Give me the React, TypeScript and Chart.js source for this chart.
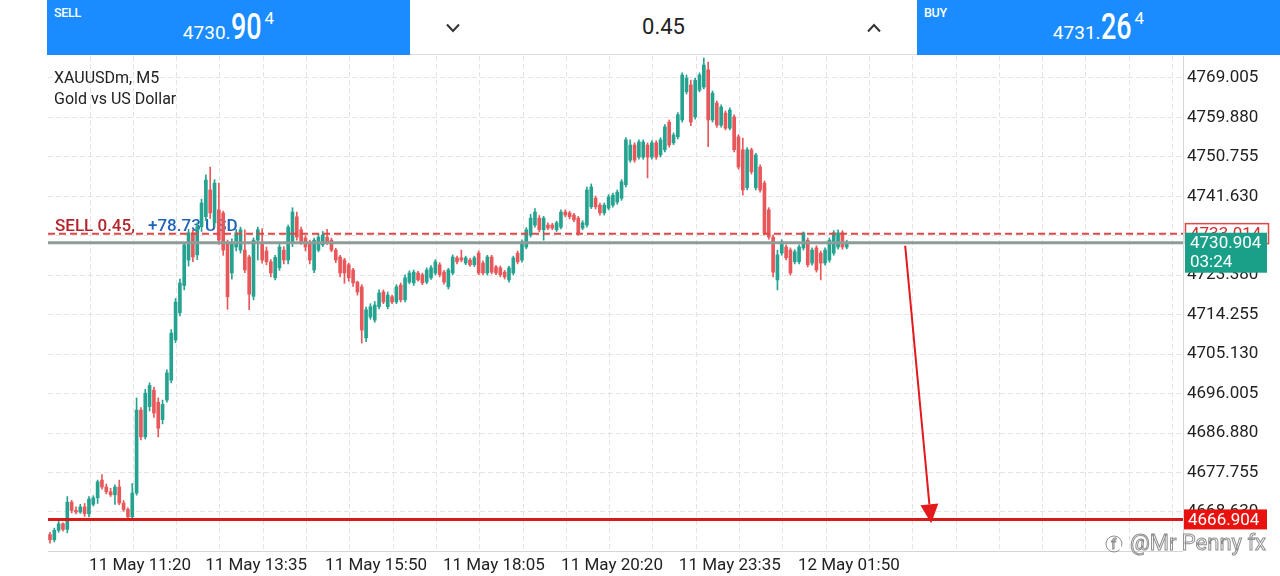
import React, { useEffect, useRef } from 'react';
import { Chart, registerables } from 'chart.js';

Chart.register(...registerables);

// ---------------- DATA ----------------
const symbolTitle = 'XAUUSDm, M5';
const symbolName = 'Gold vs US Dollar';

const opens = [
  4663.4,4662.2,4664.4,4665.9,4664.6,4670.9,4669.0,4668.6,4669.8,4668.2,
  4670.4,4671.9,4676.0,4674.4,4673.3,4672.6,4674.4,4670.7,4669.2,4667.5,
  4673.0,4692.2,4686.0,4693.0,4696.8,4694.0,4690.0,4694.5,4699.1,4708.4,
  4714.7,4721.0,4726.9,4733.2,4728.1,4734.6,4736.9,4743.1,4735.5,4738.5,
  4737.8,4730.9,4723.9,4729.9,4729.2,4729.2,4727.6,4718.5,4731.5,4730.9,
  4729.0,4726.5,4722.8,4725.1,4729.2,4726.9,4730.8,4736.9,4733.9,4732.0,
  4730.9,4724.6,4729.2,4730.4,4732.2,4731.5,4729.2,4727.6,4726.9,4725.8,
  4724.6,4721.8,4720.7,4708.9,4713.7,4713.0,4716.1,4719.5,4716.1,4718.4,
  4717.2,4721.1,4717.7,4721.8,4721.6,4723.9,4723.5,4721.8,4722.8,4723.9,
  4725.8,4724.1,4720.7,4723.9,4727.4,4727.4,4726.2,4726.9,4725.8,4728.5,
  4726.2,4723.9,4727.6,4725.3,4725.1,4724.1,4722.3,4723.9,4728.5,4726.9,
  4729.9,4732.7,4735.0,4736.6,4733.9,4735.0,4735.0,4733.9,4734.5,4738.0,
  4737.8,4737.3,4736.6,4734.3,4735.0,4739.2,4741.2,4739.6,4737.8,4738.9,
  4739.6,4740.3,4741.2,4744.3,4750.0,4753.5,4750.7,4750.7,4753.5,4750.7,
  4754.0,4751.2,4752.4,4758.8,4754.0,4755.4,4759.3,4765.8,4767.4,4760.0,
  4766.2,4766.9,4770.9,4759.3,4763.2,4758.1,4760.9,4757.4,4760.0,4755.4,
  4752.4,4743.6,4752.4,4743.6,4748.4,4744.7,4738.5,4732.2,4722.3,4728.5,
  4729.9,4729.2,4726.5,4726.5,4729.7,4731.5,4726.2,4729.7,4728.5,4726.2,
  4726.9,4728.5,4729.9,4733.2,4729.9,
];

const highs = [
  4663.9,4664.9,4666.6,4666.1,4672.2,4671.3,4669.8,4670.4,4670.6,4672.2,
  4672.4,4676.0,4677.3,4675.1,4674.1,4674.9,4676.0,4671.3,4669.6,4675.2,
  4695.0,4692.8,4697.0,4698.5,4697.5,4695.0,4694.5,4701.5,4710.8,4718.0,
  4722.5,4731.0,4734.0,4733.8,4735.5,4741.0,4746.6,4748.4,4745.5,4744.7,
  4738.2,4731.5,4731.8,4734.0,4734.5,4733.9,4728.0,4732.0,4734.5,4734.2,
  4729.9,4727.0,4728.0,4730.5,4730.0,4735.0,4739.0,4738.0,4734.5,4732.5,
  4731.5,4732.0,4733.0,4733.5,4734.0,4732.0,4729.6,4728.0,4727.3,4726.2,
  4725.0,4722.0,4721.2,4716.0,4716.8,4717.3,4720.0,4720.0,4719.5,4718.8,
  4721.2,4721.6,4723.5,4724.4,4724.6,4724.3,4723.9,4725.1,4725.6,4727.0,
  4726.3,4724.5,4725.0,4728.1,4727.8,4729.2,4727.8,4727.3,4727.8,4729.0,
  4726.7,4728.0,4728.0,4725.7,4725.5,4724.5,4725.5,4727.8,4729.0,4731.6,
  4734.4,4737.5,4738.8,4737.2,4737.0,4735.5,4735.4,4735.9,4738.5,4738.5,
  4738.2,4737.7,4737.0,4736.0,4743.8,4744.5,4741.7,4740.1,4740.1,4742.0,
  4742.4,4743.1,4745.5,4755.2,4754.7,4754.0,4754.7,4754.7,4754.0,4754.5,
  4754.5,4755.2,4758.2,4759.3,4756.3,4761.0,4770.2,4769.7,4768.5,4769.0,
  4770.2,4773.6,4772.7,4766.0,4763.7,4762.8,4761.4,4762.1,4760.5,4755.9,
  4755.1,4752.9,4752.8,4751.6,4748.9,4745.2,4739.0,4732.7,4729.2,4731.6,
  4730.4,4729.7,4729.3,4730.4,4733.4,4732.0,4729.7,4730.2,4729.0,4729.7,
  4732.0,4733.7,4733.9,4733.7,4731.5,
];

const lows = [
  4661.4,4661.7,4663.9,4664.2,4663.8,4668.4,4668.2,4668.3,4667.6,4667.5,
  4670.0,4670.6,4673.9,4672.8,4672.2,4670.4,4670.3,4668.8,4667.0,4667.0,
  4672.5,4685.3,4685.5,4692.0,4690.5,4686.0,4689.0,4694.0,4698.5,4707.8,
  4714.0,4720.0,4725.5,4726.5,4727.0,4733.5,4736.0,4736.5,4734.5,4730.5,
  4728.0,4715.5,4722.5,4729.0,4728.5,4724.0,4715.4,4717.7,4726.9,4726.2,
  4725.8,4723.0,4722.3,4724.5,4726.0,4726.0,4730.0,4731.5,4730.5,4729.0,
  4726.0,4724.0,4728.8,4730.0,4730.5,4728.8,4726.3,4723.0,4721.5,4722.0,
  4720.8,4718.8,4707.7,4708.0,4713.2,4712.5,4715.6,4716.8,4715.6,4716.8,
  4716.8,4717.2,4717.2,4721.4,4721.0,4722.0,4721.2,4721.4,4722.4,4723.5,
  4723.0,4721.3,4720.2,4723.5,4726.0,4726.5,4725.8,4725.4,4725.4,4723.5,
  4723.5,4723.4,4723.7,4723.5,4723.0,4722.5,4721.8,4723.5,4726.0,4726.4,
  4729.5,4732.2,4734.5,4733.4,4731.5,4733.9,4733.9,4733.5,4734.1,4736.9,
  4736.4,4735.8,4732.6,4733.9,4734.5,4738.8,4738.7,4737.3,4737.3,4738.5,
  4739.1,4739.8,4740.7,4743.8,4749.5,4749.5,4750.2,4750.2,4745.9,4750.2,
  4750.2,4750.7,4751.9,4753.0,4753.6,4754.9,4758.8,4765.3,4758.0,4759.5,
  4765.8,4766.5,4753.1,4758.8,4757.6,4757.6,4757.0,4757.0,4751.9,4747.9,
  4741.9,4743.1,4746.8,4743.1,4742.6,4732.7,4731.7,4723.0,4720.0,4728.0,
  4726.9,4723.4,4726.0,4726.0,4729.2,4725.3,4725.7,4724.1,4722.3,4725.7,
  4726.4,4728.0,4729.4,4729.4,4729.5,
];

const closes = [
  4662.2,4664.4,4665.9,4664.6,4670.9,4669.0,4668.6,4669.8,4668.2,4671.6,
  4671.9,4675.6,4674.4,4673.3,4672.6,4674.4,4670.7,4669.2,4667.5,4673.0,
  4692.2,4686.0,4696.1,4697.9,4691.5,4688.0,4693.5,4700.8,4710.0,4717.2,
  4721.6,4730.4,4733.2,4727.6,4734.6,4740.1,4745.4,4737.8,4744.7,4731.5,
  4729.2,4718.4,4730.9,4733.2,4733.9,4724.6,4719.0,4731.5,4733.9,4726.9,
  4726.5,4723.9,4727.5,4729.9,4726.9,4734.5,4738.0,4732.2,4731.1,4729.9,
  4726.9,4731.5,4732.2,4732.7,4730.9,4729.2,4726.9,4723.9,4723.9,4722.8,
  4721.6,4719.5,4710.7,4715.4,4716.1,4716.5,4719.3,4717.2,4718.8,4717.2,
  4720.7,4717.7,4722.8,4723.9,4724.1,4722.3,4721.6,4724.6,4725.1,4726.5,
  4723.5,4721.8,4724.6,4727.6,4726.5,4726.9,4727.4,4725.8,4727.4,4723.9,
  4723.9,4727.6,4724.1,4723.9,4723.5,4723.0,4725.1,4727.4,4726.5,4731.1,
  4733.9,4736.6,4738.0,4733.9,4736.6,4734.3,4734.3,4735.5,4738.0,4737.3,
  4736.9,4736.2,4733.2,4735.5,4743.1,4743.8,4739.2,4737.8,4739.6,4741.5,
  4741.9,4742.6,4745.0,4754.7,4753.5,4750.0,4754.2,4754.2,4750.7,4754.0,
  4750.7,4754.7,4757.7,4753.5,4755.8,4760.5,4769.7,4769.0,4758.8,4768.5,
  4769.7,4772.0,4759.3,4765.5,4758.1,4762.3,4757.4,4761.6,4752.4,4748.4,
  4743.1,4752.4,4747.3,4751.2,4743.1,4733.2,4732.2,4724.1,4728.1,4731.1,
  4727.4,4723.9,4728.8,4729.9,4733.2,4725.8,4729.2,4724.6,4726.2,4729.2,
  4731.5,4733.2,4733.2,4729.9,4730.9,
];

const priceTicks = [
  4769.005, 4759.880, 4750.755, 4741.630, 4732.505, 4723.380,
  4714.255, 4705.130, 4696.005, 4686.880, 4677.755, 4668.630,
];
const timeLabels = [
  '11 May 11:20', '11 May 13:35', '11 May 15:50', '11 May 18:05',
  '11 May 20:20', '11 May 23:35', '12 May 01:50',
];
const timeLabelBars = [20.8, 47.6, 75.3, 102.5, 129.8, 157.0, 184.5];
const gridStartBar = 9.24;
const gridEveryBars = 10;
const xMinBar = -0.46;
const xMaxBar = 261.66;
const yMinPrice = 4659.6;
const yMaxPrice = 4774.09;

const sellQuote = ['4730.', '90', '4'];
const buyQuote = ['4731.', '26', '4'];
const lotText = '0.45';
const tradeText = 'SELL 0.45,';
const profitText = '+78.73 USD';
const entryPrice = 4733.0;
const entryLabel = '4733.014';
const bidPrice = 4730.904;
const timerText = '03:24';
const targetPrice = 4666.904;
const arrowFrom = { bar: 197.5, price: 4730.2 };
const arrowTo = { bar: 203.5, price: 4666.0 };
const watermark = '@Mr Penny fx';

// ---------------- STYLE ----------------
const UP = '#26a390';
const DOWN = '#e8585a';
const GRID = '#e4e4e4';
const BLUE = '#1a8cff';
const FONT = 'Roboto';

const overlayPlugin = {
  id: 'overlay',
  beforeDatasetsDraw(chart: any) {
    const { ctx } = chart;
    const a = chart.chartArea;
    ctx.save();
    ctx.strokeStyle = '#d6d6d6';
    ctx.lineWidth = 1;
    ctx.beginPath();
    ctx.moveTo(a.right + 0.5, 56);
    ctx.lineTo(a.right + 0.5, a.bottom);
    ctx.stroke();
    ctx.beginPath();
    ctx.moveTo(a.left, a.bottom + 0.5);
    ctx.lineTo(a.right, a.bottom + 0.5);
    ctx.stroke();
    ctx.fillStyle = '#222';
    ctx.font = `16px ${FONT}`;
    ctx.textAlign = 'left';
    ctx.textBaseline = 'alphabetic';
    ctx.fillText(symbolTitle, 54, 83);
    ctx.fillText(symbolName, 54, 104);
    const yE = chart.scales.y.getPixelForValue(entryPrice);
    ctx.font = `500 17px ${FONT}`;
    ctx.fillStyle = '#b3242a';
    ctx.fillText(tradeText, a.left + 7, yE - 3);
    ctx.fillStyle = '#1f63b8';
    ctx.fillText(profitText, a.left + 100, yE - 3);
    ctx.restore();
  },
  afterDatasetsDraw(chart: any) {
    const { ctx } = chart;
    const a = chart.chartArea;
    const ys = chart.scales.y;
    const xs = chart.scales.x;
    ctx.save();
    const hline = (price: number, color: string, w: number, dash: number[]) => {
      const y = ys.getPixelForValue(price);
      ctx.strokeStyle = color;
      ctx.lineWidth = w;
      ctx.setLineDash(dash);
      ctx.beginPath();
      ctx.moveTo(a.left, y);
      ctx.lineTo(a.right, y);
      ctx.stroke();
    };
    hline(entryPrice, '#e04848', 2, [7, 4]);
    hline(bidPrice, '#8d9c98', 3, []);
    hline(targetPrice, '#d91818', 3, []);
    ctx.setLineDash([]);
    const x1 = xs.getPixelForValue(arrowFrom.bar);
    const y1 = ys.getPixelForValue(arrowFrom.price);
    const x2 = xs.getPixelForValue(arrowTo.bar);
    const y2 = ys.getPixelForValue(arrowTo.price);
    const ang = Math.atan2(y2 - y1, x2 - x1);
    const headLen = 19;
    const headW = 9;
    const bx = x2 - headLen * Math.cos(ang);
    const by = y2 - headLen * Math.sin(ang);
    ctx.strokeStyle = '#e3191c';
    ctx.fillStyle = '#e3191c';
    ctx.lineWidth = 2;
    ctx.beginPath();
    ctx.moveTo(x1, y1);
    ctx.lineTo(bx, by);
    ctx.stroke();
    ctx.beginPath();
    ctx.moveTo(x2, y2);
    ctx.lineTo(bx + headW * Math.sin(ang), by - headW * Math.cos(ang));
    ctx.lineTo(bx - headW * Math.sin(ang), by + headW * Math.cos(ang));
    ctx.closePath();
    ctx.fill();
    ctx.restore();
  },
  afterDraw(chart: any) {
    const { ctx } = chart;
    const a = chart.chartArea;
    const ys = chart.scales.y;
    ctx.save();
    ctx.font = `17px ${FONT}`;
    ctx.textAlign = 'left';
    ctx.textBaseline = 'middle';
    const bx = a.right + 2;
    const bw = 83;
    const yE = ys.getPixelForValue(entryPrice);
    ctx.fillStyle = '#fff';
    ctx.fillRect(bx, yE - 10, bw, 20);
    ctx.strokeStyle = '#e04848';
    ctx.lineWidth = 1.5;
    ctx.strokeRect(bx + 0.5, yE - 10, bw, 20);
    ctx.fillStyle = '#d32f2f';
    ctx.fillText(entryLabel, bx + 5, yE + 1);
    const yB = ys.getPixelForValue(bidPrice);
    ctx.fillStyle = '#1aa089';
    ctx.fillRect(bx, yB - 10, bw - 1, 40);
    ctx.fillStyle = '#fff';
    ctx.fillText(bidPrice.toFixed(3), bx + 5, yB + 1);
    ctx.fillText(timerText, bx + 5, yB + 20);
    const yT = ys.getPixelForValue(targetPrice);
    ctx.fillStyle = '#e8120f';
    ctx.fillRect(bx - 1, yT - 10, bw, 20);
    ctx.fillStyle = '#fff';
    ctx.fillText(targetPrice.toFixed(3), bx + 3, yT + 1);
    ctx.font = `22px ${FONT}`;
    ctx.lineWidth = 1;
    ctx.strokeStyle = '#8e8e8e';
    ctx.fillStyle = '#ffffff';
    ctx.fillText(watermark, 1130, 544);
    ctx.strokeText(watermark, 1130, 544);
    ctx.beginPath();
    ctx.arc(1114, 544, 8, 0.25 * Math.PI, 2.1 * Math.PI);
    ctx.stroke();
    ctx.font = `15px ${FONT}`;
    ctx.strokeText('f', 1111, 545);
    ctx.restore();
  },
};

const chevron = (up: boolean, left: number) => (
  <svg width={16} height={10} style={{ position: 'absolute', left, top: 23 }} viewBox="0 0 16 10">
    <polyline
      points={up ? '2,8.5 8,2 14,8.5' : '2,1.5 8,8 14,1.5'}
      fill="none"
      stroke="#333"
      strokeWidth={2}
    />
  </svg>
);

const Quote = ({ title, parts, left }: { title: string; parts: string[]; left: number }) => (
  <div
    style={{
      position: 'absolute',
      left,
      top: 0,
      width: 363,
      height: 55,
      background: BLUE,
      color: '#fff',
      fontFamily: FONT,
    }}
  >
    <div style={{ position: 'absolute', left: 7, top: 5, fontSize: 12.5, fontWeight: 500, letterSpacing: -0.3 }}>
      {title}
    </div>
    <div
      style={{
        position: 'absolute',
        left: 0,
        right: 0,
        top: 0,
        paddingTop: 9,
        display: 'flex',
        justifyContent: 'center',
        alignItems: 'baseline',
        whiteSpace: 'nowrap',
      }}
    >
      <span style={{ fontSize: 19, lineHeight: '19px' }}>{parts[0]}</span>
      <span
        style={{
          display: 'inline-block',
          width: 31,
          fontSize: 36,
          lineHeight: '36px',
          fontWeight: 500,
          transform: 'scaleX(0.75)',
          transformOrigin: 'left',
        }}
      >
        {parts[1]}
      </span>
      <span style={{ fontSize: 17, lineHeight: '17px', position: 'relative', top: -15, marginLeft: 3 }}>
        {parts[2]}
      </span>
    </div>
  </div>
);

export default function App() {
  const canvasRef = useRef<HTMLCanvasElement | null>(null);

  useEffect(() => {
    if (!canvasRef.current) return;
    const colors = closes.map((c, i) => (c >= opens[i] ? UP : DOWN));
    const bodies = closes.map((c, i) => ({ x: i, y: [Math.min(opens[i], c), Math.max(opens[i], c)] }));
    const wicks = closes.map((c, i) => ({
      x: i,
      y: [Math.min(lows[i], opens[i], c), Math.max(highs[i], opens[i], c)],
    }));
    const gridBars: number[] = [];
    for (let v = gridStartBar; v <= xMaxBar; v += gridEveryBars) gridBars.push(v);

    const tickFont = { family: FONT, size: 17 };
    const chart = new Chart(canvasRef.current, {
      type: 'bar',
      data: {
        datasets: [
          {
            data: bodies as any,
            backgroundColor: colors,
            borderWidth: 0,
            barThickness: 3,
            minBarLength: 1,
            grouped: false,
            order: 0,
            xAxisID: 'x',
            yAxisID: 'y',
          } as any,
          {
            data: wicks as any,
            backgroundColor: colors,
            borderWidth: 0,
            barThickness: 1,
            grouped: false,
            order: 1,
            xAxisID: 'x',
            yAxisID: 'y',
          } as any,
        ],
      },
      options: {
        animation: false,
        responsive: false,
        devicePixelRatio: 1,
        events: [],
        layout: { padding: { left: 48, top: 56, right: 0, bottom: 0 } },
        plugins: { legend: { display: false }, tooltip: { enabled: false } },
        scales: {
          x: {
            type: 'linear',
            position: 'bottom',
            min: xMinBar,
            max: xMaxBar,
            offset: false,
            bounds: 'data',
            grid: { color: GRID, lineWidth: 1, drawTicks: false, offset: false },
            border: { display: false, dash: [5, 3] },
            ticks: { display: false },
            afterBuildTicks: (s: any) => {
              s.ticks = gridBars.map((v) => ({ value: v }));
            },
            afterFit: (s: any) => {
              s.height = 0;
            },
          },
          x2: {
            type: 'linear',
            position: 'bottom',
            min: xMinBar,
            max: xMaxBar,
            offset: false,
            bounds: 'data',
            grid: { display: false, drawTicks: false },
            border: { display: false },
            ticks: {
              font: tickFont,
              color: '#222',
              padding: 5,
              autoSkip: false,
              maxRotation: 0,
              callback: (_v: any, i: number) => timeLabels[i],
            },
            afterBuildTicks: (s: any) => {
              s.ticks = timeLabelBars.map((v) => ({ value: v }));
            },
            afterFit: (s: any) => {
              s.height = 25;
            },
          },
          y: {
            type: 'linear',
            position: 'right',
            min: yMinPrice,
            max: yMaxPrice,
            bounds: 'data',
            grid: { color: GRID, lineWidth: 1, drawTicks: false },
            border: { display: false, dash: [5, 3] },
            ticks: {
              font: tickFont,
              color: '#222',
              padding: 4,
              autoSkip: false,
              callback: (v: any) => Number(v).toFixed(3),
            },
            afterBuildTicks: (s: any) => {
              s.ticks = priceTicks.map((v) => ({ value: v }));
            },
            afterFit: (s: any) => {
              s.width = 97;
            },
          },
        } as any,
      },
      plugins: [overlayPlugin],
    });
    return () => chart.destroy();
  }, []);

  return (
    <div
      style={{
        position: 'fixed',
        left: 0,
        top: 0,
        width: 1280,
        height: 576,
        background: '#fff',
        overflow: 'hidden',
      }}
    >
      <canvas
        ref={canvasRef}
        width={1280}
        height={576}
        style={{ position: 'absolute', left: 0, top: 0, width: 1280, height: 576 }}
      />
      <Quote title="SELL" parts={sellQuote} left={47} />
      <Quote title="BUY" parts={buyQuote} left={917} />
      <div
        style={{
          position: 'absolute',
          left: 410,
          top: 0,
          width: 507,
          height: 55,
          background: '#fff',
          borderBottom: '1px solid #dcdcdc',
          boxSizing: 'border-box',
        }}
      >
        {chevron(false, 35)}
        <div
          style={{
            position: 'absolute',
            left: 0,
            right: 0,
            top: 14,
            textAlign: 'center',
            fontFamily: FONT,
            fontSize: 22,
            color: '#222',
          }}
        >
          {lotText}
        </div>
        {chevron(true, 456)}
      </div>
    </div>
  );
}
